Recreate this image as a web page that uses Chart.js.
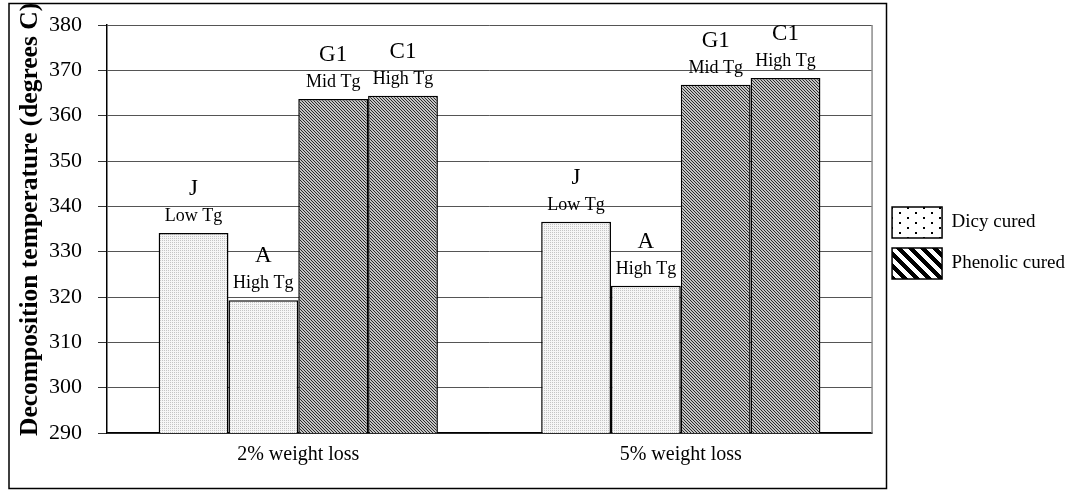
<!DOCTYPE html>
<html>
<head>
<meta charset="utf-8">
<script src="https://cdn.jsdelivr.net/npm/chart.js@4.4.0/dist/chart.umd.min.js"></script>
<style>
  html, body { margin: 0; padding: 0; background: #fff; }
  canvas { display: block; }
</style>
</head>
<body>
<canvas id="chart" width="1075" height="490"></canvas>
<script>
// ---- data ----
const categories = ['2% weight loss', '5% weight loss'];
const seriesNames = ['J', 'A', 'G1', 'C1'];
const tgLabels = ['Low Tg', 'High Tg', 'Mid Tg', 'High Tg'];
const curing = ['Dicy cured', 'Dicy cured', 'Phenolic cured', 'Phenolic cured'];
const valuesJ = [334.1, 336.6];
const valuesA = [319.3, 322.5];
const valuesG1 = [363.7, 366.8];
const valuesC1 = [364.4, 368.3];
const yTicks = [290, 300, 310, 320, 330, 340, 350, 360, 370, 380];
const legendNames = ['Dicy cured', 'Phenolic cured'];

const FONT = "'Liberation Serif', 'Times New Roman', serif";

// ---- fill patterns ----
function makePattern(w, h, bg, paint) {
  const c = document.createElement('canvas');
  c.width = w; c.height = h;
  const g = c.getContext('2d');
  g.fillStyle = bg;
  g.fillRect(0, 0, w, h);
  paint(g);
  return g.createPattern(c, 'repeat');
}
// fine dots for dicy bars
const dicyBar = makePattern(2, 2, '#f6f6f6', g => {
  g.fillStyle = '#c4c4c4';
  g.fillRect(0, 0, 1, 1);
});
// fine diagonal hatch for phenolic bars
const phenBar = makePattern(3, 3, '#c4c4c4', g => {
  g.fillStyle = '#2a2a2a';
  for (let i = 0; i < 3; i++) g.fillRect(i, i, 1, 1);
});
// coarse versions for the legend
const dicyKey = makePattern(16, 10, '#ffffff', g => {
  g.fillStyle = '#000';
  g.fillRect(3, 2, 2, 2);
  g.fillRect(11, 7, 2, 2);
});
const phenKey = makePattern(12, 12, '#ffffff', g => {
  g.fillStyle = '#000';
  for (let y = 0; y < 12; y++) {
    for (let x = 0; x < 12; x++) {
      if ((((x - y) % 12) + 12) % 12 < 6) g.fillRect(x, y, 1, 1);
    }
  }
});

const seriesValues = [valuesJ, valuesA, valuesG1, valuesC1];
const datasets = seriesNames.map((name, i) => ({
  label: name,
  data: seriesValues[i],
  backgroundColor: curing[i] === 'Dicy cured' ? dicyBar : phenBar,
  borderColor: '#000',
  borderWidth: 1.5,
  borderSkipped: false,
  barPercentage: 1,
  categoryPercentage: 0.73
}));

// no extra label overhang padding, the layout padding does the job
const noPad = s => { s.paddingLeft = 0; s.paddingRight = 0; s.paddingTop = 0; s.paddingBottom = 0; };

// ---- plugins ----
const frame = {
  id: 'frame',
  beforeDraw(chart) {
    const ctx = chart.ctx;
    ctx.save();
    ctx.fillStyle = '#fff';
    ctx.fillRect(0, 0, chart.width, chart.height);
    ctx.strokeStyle = '#000';
    ctx.lineWidth = 1.5;
    ctx.strokeRect(9, 3.5, 877.5, 485);
    ctx.restore();
  },
  afterDraw(chart) {
    // gray plot-area edge on the right
    const a = chart.chartArea;
    const ctx = chart.ctx;
    ctx.save();
    ctx.strokeStyle = '#8c8c8c';
    ctx.lineWidth = 1.5;
    ctx.beginPath();
    ctx.moveTo(a.right, a.top);
    ctx.lineTo(a.right, a.bottom);
    ctx.stroke();
    ctx.restore();
  }
};

const barLabels = {
  id: 'barLabels',
  afterDatasetsDraw(chart) {
    const ctx = chart.ctx;
    ctx.save();
    ctx.fillStyle = '#000';
    ctx.textAlign = 'center';
    ctx.textBaseline = 'alphabetic';
    chart.data.datasets.forEach((ds, i) => {
      chart.getDatasetMeta(i).data.forEach(bar => {
        ctx.font = '18px ' + FONT;
        ctx.fillText(tgLabels[i], bar.x, bar.y - 12);
        ctx.font = '23px ' + FONT;
        ctx.fillText(seriesNames[i], bar.x, bar.y - 38);
      });
    });
    ctx.restore();
  }
};

new Chart(document.getElementById('chart'), {
  type: 'bar',
  data: { labels: categories, datasets: datasets },
  options: {
    responsive: false,
    animation: false,
    devicePixelRatio: 1,
    layout: { padding: { left: 4, top: 25, bottom: 17, right: 0 } },
    plugins: {
      tooltip: { enabled: false },
      legend: {
        position: 'right',
        align: 'start',
        maxWidth: 220,
        // empty title only used to push the keys down
        title: { display: true, text: '', font: { size: 10 }, padding: { top: 0, bottom: 160 } },
        labels: {
          boxWidth: 50,
          boxHeight: 31,
          padding: 10,
          color: '#000',
          font: { family: FONT, size: 19 },
          generateLabels: () => legendNames.map((t, k) => ({
            text: t,
            fillStyle: k === 0 ? dicyKey : phenKey,
            strokeStyle: '#000',
            fontColor: '#000',
            lineWidth: 1.5,
            hidden: false,
            datasetIndex: k * 2
          }))
        }
      }
    },
    scales: {
      x: {
        afterFit: s => { noPad(s); s.height = 40; },
        grid: { display: false, drawTicks: false },
        border: { color: '#000', width: 1.5 },
        ticks: { color: '#000', font: { family: FONT, size: 20 }, padding: 10 }
      },
      y: {
        min: 290,
        max: 380,
        afterFit: s => { noPad(s); s.width = 103; },
        afterBuildTicks: s => { s.ticks = yTicks.map(v => ({ value: v })); },
        grid: { color: '#555', lineWidth: 1, tickLength: 9, tickColor: '#333' },
        border: { color: '#000', width: 1.5 },
        ticks: { color: '#000', font: { family: FONT, size: 22 }, padding: 16 },
        title: {
          display: true,
          text: '   Decomposition temperature (degrees C)',
          color: '#000',
          font: { family: FONT, size: 25.5, weight: 'bold' },
          padding: { top: 11, bottom: 4 }
        }
      },
      y2: {
        position: 'right',
        display: true,
        grid: { display: false, drawOnChartArea: false },
        border: { display: false },
        ticks: { display: false },
        afterFit: s => { noPad(s); s.width = 10; }
      }
    }
  },
  plugins: [frame, barLabels]
});
</script>
</body>
</html>
